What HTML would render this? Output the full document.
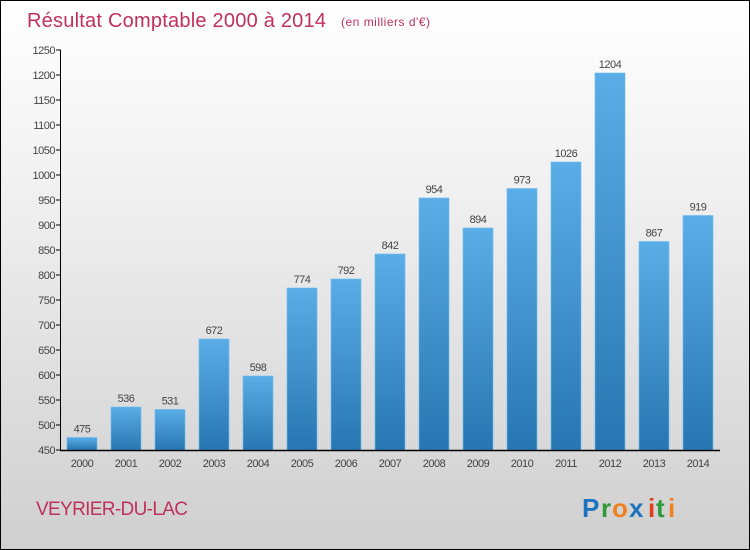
<!DOCTYPE html>
<html><head><meta charset="utf-8"><style>
body{margin:0;width:750px;height:550px;overflow:hidden}
#frame{position:absolute;left:0;top:0;width:748px;height:548px;border:1px solid #000;background:linear-gradient(#fff 0%,#f0f0f0 35%,#cfcfcf 100%)}
svg{position:absolute;left:0;top:0}
text{font-family:"Liberation Sans",sans-serif}
</style></head><body>
<div id="frame"></div>
<svg id="chart" width="750" height="550">
<defs><linearGradient id="bg" x1="0" y1="0" x2="0" y2="1"><stop offset="0" stop-color="#5aade6"/><stop offset="1" stop-color="#2776b3"/></linearGradient></defs>
<text x="27" y="27" font-size="20" fill="#c0305e" textLength="299">Résultat Comptable 2000 à 2014</text>
<text x="341" y="26" font-size="12" fill="#c0305e" textLength="89">(en milliers d'€)</text>
<text x="36" y="515" font-size="19" fill="#c0305e" textLength="152">VEYRIER-DU-LAC</text>
<g font-size="26" font-weight="bold" font-family="Liberation Sans,sans-serif">
<text x="582" y="517" fill="#1e73c0">P</text><text x="601" y="517" fill="#2e9a3a">r</text><text x="612" y="517" fill="#f08020">o</text><text x="629" y="517" fill="#1e73c0">x</text><text x="648" y="517" fill="#e04020">i</text><text x="656" y="517" fill="#2e9a3a">t</text><text x="668" y="517" fill="#f08020">i</text>
</g>
</svg>
<script>
const categories=["2000","2001","2002","2003","2004","2005","2006","2007","2008","2009","2010","2011","2012","2013","2014"];
const values=[475,536,531,672,598,774,792,842,954,894,973,1026,1204,867,919];
const yTicks=[450,500,550,600,650,700,750,800,850,900,950,1000,1050,1100,1150,1200,1250];
const NS="http://www.w3.org/2000/svg";
const svgEl=document.getElementById('chart');
const yMin=450,yMax=1250,plotTop=50,plotBot=450;
const yPos=v=>plotBot-(v-yMin)/(yMax-yMin)*(plotBot-plotTop);
const xPos=i=>82+i*44;
function mk(t,a){const e=document.createElementNS(NS,t);for(const k in a)e.setAttribute(k,a[k]);svgEl.appendChild(e);return e;}
yTicks.forEach(t=>{
 const l=mk('line',{x1:56,x2:61,y1:yPos(t),y2:yPos(t),stroke:'#000'});
 
 
 const tx=mk('text',{x:55,y:yPos(t)+4,'font-size':11,fill:'#444','text-anchor':'end','letter-spacing':'-0.5'});
 tx.textContent=t;
 
 
});
categories.forEach((c,i)=>{
 const v=values[i];
 const r=mk('rect',{x:xPos(i)-15,y:yPos(v),width:30,height:plotBot-yPos(v),fill:'url(#bg)',stroke:'#6bbcf0','stroke-width':0.6});
 
 
 const vt=mk('text',{x:xPos(i),y:yPos(v)-5,'font-size':11,fill:'#444','text-anchor':'middle','letter-spacing':'-0.5'});
 vt.textContent=v;
 
 
 const ct=mk('text',{x:xPos(i),y:467,'font-size':11,fill:'#444','text-anchor':'middle','letter-spacing':'-0.5'});
 ct.textContent=c;
 
 
});
const ya=mk('line',{x1:60.5,x2:60.5,y1:plotTop,y2:plotBot,stroke:'#000'});


const xa=mk('line',{x1:60,x2:720,y1:plotBot+0.5,y2:plotBot+0.5,stroke:'#000','stroke-width':1.5});


</script>
</body></html>
